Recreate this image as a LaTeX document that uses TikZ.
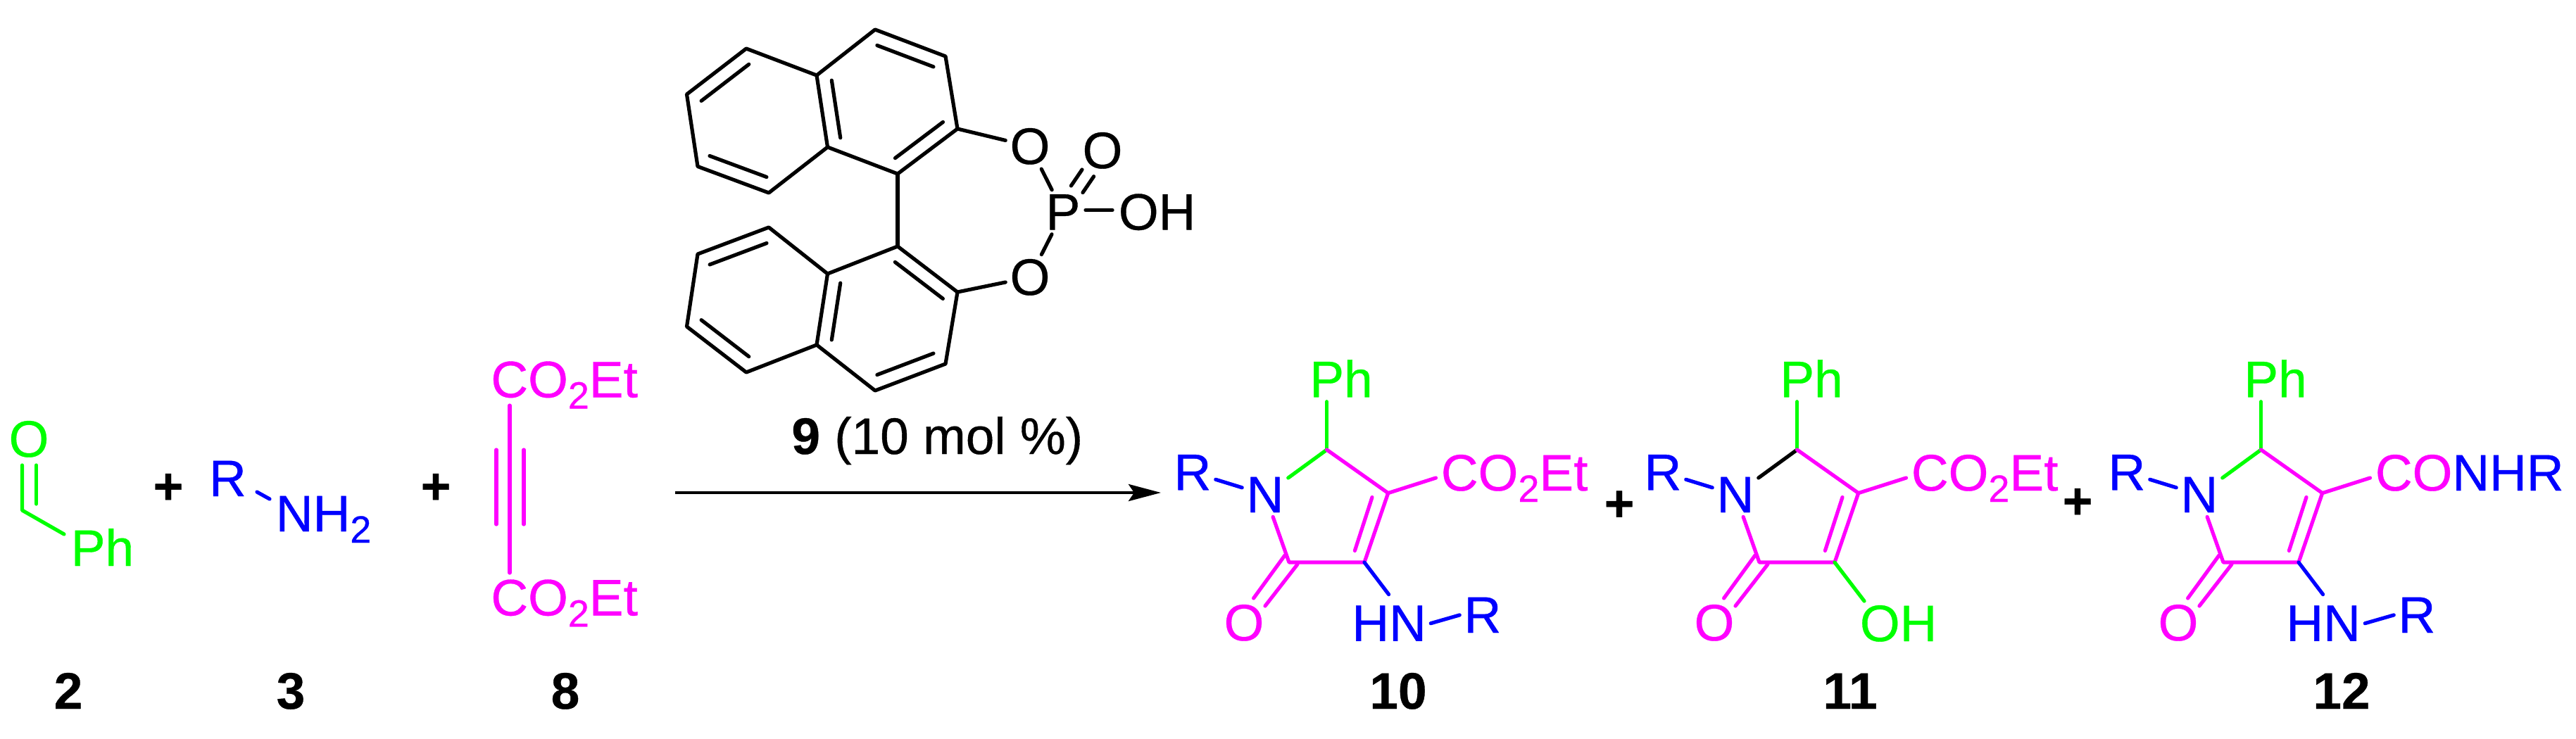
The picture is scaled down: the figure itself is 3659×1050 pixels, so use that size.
\documentclass[tikz,border=0pt]{standalone}
\usepackage{fontspec}
\setmainfont[RawFeature={embolden=0.5}]{Liberation Sans}
\usetikzlibrary{calc}
\usetikzlibrary{arrows.meta}
\definecolor{groupgreen}{RGB}{0,255,0}
\definecolor{groupblue}{RGB}{0,0,255}
\definecolor{groupmagenta}{RGB}{255,0,255}
\newcommand{\subtwo}{\raisebox{-8pt}{\fontsize{27}{27}\selectfont 2}}
\newcommand{\innerbond}[3][black]{\draw[bond,#1] ($(#2)!.1!(#3)!10pt!90:(#3)$) -- ($(#3)!.1!(#2)!10pt!-90:(#2)$);}

\begin{document}
\begin{tikzpicture}
  [x=.5pt, y=-.5pt,
   bond/.style={line width=2.6pt, line cap=round, line join=round},
   atom/.style={inner sep=3pt, anchor=base, font=\fontsize{36.5}{40}\selectfont},
   group/.style={inner sep=3pt, anchor=base west, font=\fontsize{36.5}{40}\selectfont},
   plussign/.style={inner sep=0pt, font=\bfseries\fontsize{36.5}{40}\selectfont},
   number/.style={inner sep=0pt, anchor=base, font=\bfseries\fontsize{36.5}{40}\selectfont},
   reaction/.style={line width=2.3pt, -{Stealth[length=23pt,width=12pt,inset=4pt]}}]
  \useasboundingbox (0,0) rectangle (3659,1050);

  \coordinate (a1) at (1243,42);
  \coordinate (a2) at (1343,80);
  \coordinate (a3) at (1360,183);
  \coordinate (a4) at (1275,247);
  \coordinate (a5) at (1175.5,209);
  \coordinate (a6) at (1160,107);
  \coordinate (a7) at (1060,69);
  \coordinate (a8) at (975.5,134);
  \coordinate (a9) at (991,236.5);
  \coordinate (a10) at (1092,274);
  \coordinate (b1) at (1243,555);
  \coordinate (b2) at (1343,517);
  \coordinate (b3) at (1360,415);
  \coordinate (b4) at (1275,350);
  \coordinate (b5) at (1175.5,389);
  \coordinate (b6) at (1160,490);
  \coordinate (b7) at (1060,529);
  \coordinate (b8) at (975.5,464);
  \coordinate (b9) at (991,361);
  \coordinate (b10) at (1092,323);
  \draw[bond] (a1) -- (a2) -- (a3) -- (a4) -- (a5) -- (a6) -- cycle;
  \draw[bond] (a6) -- (a7) -- (a8) -- (a9) -- (a10) -- (a5);
  \draw[bond] (b1) -- (b2) -- (b3) -- (b4) -- (b5) -- (b6) -- cycle;
  \draw[bond] (b6) -- (b7) -- (b8) -- (b9) -- (b10) -- (b5);
  \draw[bond] (a4) -- (b4);
  \innerbond{a2}{a1}
  \innerbond{a4}{a3}
  \innerbond{a6}{a5}
  \innerbond{a7}{a8}
  \innerbond{a9}{a10}
  \innerbond{b1}{b2}
  \innerbond{b3}{b4}
  \innerbond{b5}{b6}
  \innerbond{b8}{b7}
  \innerbond{b10}{b9}

  \node[atom] (oa) at (1463,233) {O};
  \node[atom] (ob) at (1463,419) {O};
  \node[atom] (p) at (1510,326.4) {P};
  \node[atom] (od) at (1566,239) {O};
  \node[group] (oh) at (1582.5,326.4) {OH};
  \coordinate (pd1) at (1521.4,264);
  \coordinate (pd2) at (1538,273.6);
  \coordinate (od1) at (1537,241);
  \coordinate (od2) at (1553.6,250.7);
  \coordinate (pe) at (1542,298.5);
  \coordinate (ohe) at (1580,298.5);
  \draw[bond] (a3) -- (oa);
  \draw[bond] (b3) -- (ob);
  \draw[bond] (oa) -- (p);
  \draw[bond] (ob) -- (p);
  \draw[bond] (pd1) -- (od1);
  \draw[bond] (pd2) -- (od2);
  \draw[bond] (pe) -- (ohe);
  \node[group] (catalyst) at (1118,645) {\textbf{9} (10 mol \%)};

  \node[atom, groupgreen] (oald) at (41,649) {O};
  \node[group, groupgreen] (phald) at (94.5,804) {Ph};
  \coordinate (cald) at (31.5,725);
  \coordinate (dald1) at (31.5,661);
  \coordinate (dald2) at (51.5,661);
  \coordinate (dald3) at (51.5,716);
  \coordinate (eald) at (91,759);
  \draw[bond, groupgreen] (dald1) -- (cald) -- (eald);
  \draw[bond, groupgreen] (dald2) -- (dald3);

  \node[atom, groupblue] (ramine) at (323.4,705) {R};
  \node[group, groupblue] (nhamine) at (385.5,755) {NH\subtwo};
  \coordinate (ramine1) at (365,699);
  \coordinate (ramine2) at (383,709);
  \draw[bond, groupblue] (ramine1) -- (ramine2);

  \node[group, groupmagenta] (esta) at (691,564.5) {CO\subtwo Et};
  \node[group, groupmagenta] (estb) at (691,874.4) {CO\subtwo Et};
  \coordinate (tripa) at (724,576);
  \coordinate (tripb) at (724,814);
  \coordinate (tripc) at (705,639);
  \coordinate (tripd) at (705,745);
  \coordinate (tripe) at (744,639);
  \coordinate (tripf) at (744,745);
  \draw[bond, groupmagenta] (tripa) -- (tripb);
  \draw[bond, groupmagenta] (tripc) -- (tripd);
  \draw[bond, groupmagenta] (tripe) -- (tripf);

  \node[plussign] (plusa) at (239,694.5) {+};
  \node[plussign] (plusb) at (619,694.5) {+};
  \node[plussign] (plusc) at (2300,719) {+};
  \node[plussign] (plusd) at (2951,715.5) {+};
  \node[number] (two) at (97,1007) {2};
  \node[number] (three) at (413,1007) {3};
  \node[number] (eight) at (803,1007) {8};
  \node[number] (ten) at (1986,1007) {10};
  \node[number] (eleven) at (2628,1007) {11};
  \node[number] (twelve) at (3326,1007) {12};

  \coordinate (start) at (959,700);
  \coordinate (stop) at (1649,700);
  \draw[reaction] (start) -- (stop);

  \foreach \p/\dx/\col in {x/0/groupgreen, y/668/black, z/1327/groupgreen} {
    \begin{scope}[shift={(\dx,0)}]
      \node[atom, groupblue] (r\p) at (1694,696.3) {R};
      \node[atom, groupblue] (n\p) at (1797,728) {N};
      \node[group, groupgreen] (ph\p) at (1854,564.3) {Ph};
      \node[atom, groupmagenta] (o\p) at (1767,910) {O};
      \coordinate (c2\p) at (1884.6,639);
      \coordinate (c3\p) at (1971.7,700.6);
      \coordinate (c4\p) at (1938,799);
      \coordinate (c5\p) at (1831,799);
      \coordinate (e\p) at (2039.5,679);
      \coordinate (ia\p) at (1949,706.5);
      \coordinate (ib\p) at (1924.4,782.4);
      \coordinate (ca\p) at (1825,789);
      \coordinate (cb\p) at (1780.6,850);
      \coordinate (cc\p) at (1843,801.7);
      \coordinate (cd\p) at (1797,861);
      \draw[bond, groupblue] (r\p) -- (n\p);
      \draw[bond, \col] (c2\p) -- (n\p);
      \draw[bond, groupgreen] (c2\p) -- (ph\p.south -| c2\p);
      \draw[bond, groupmagenta] (n\p) -- (c5\p) -- (c4\p) -- (c3\p) -- (c2\p);
      \draw[bond, groupmagenta] (c3\p) -- (e\p);
      \draw[bond, groupmagenta] (ia\p) -- (ib\p);
      \draw[bond, groupmagenta] (ca\p) -- (cb\p);
      \draw[bond, groupmagenta] (cc\p) -- (cd\p);
    \end{scope}
  }

  \node[group, groupmagenta] (estx) at (2040.5,697) {CO\subtwo Et};
  \node[group, groupmagenta] (esty) at (2708.5,697) {CO\subtwo Et};
  \node[group] (amidez) at (3367.5,697) {\textcolor{groupmagenta}{CO}\textcolor{groupblue}{NHR}};
  \node[group, groupblue] (hnx) at (1914,910.8) {HN};
  \node[atom, groupblue] (rhx) at (2106,899) {R};
  \node[group, groupblue] (hnz) at (3241,910.8) {HN};
  \node[atom, groupblue] (rhz) at (3433,899) {R};
  \node[group, groupgreen] (ohy) at (2635.5,911) {OH};
  \coordinate (nhx) at (1972.6,844.6);
  \coordinate (nhz) at (3299.6,844.6);
  \coordinate (ohe2) at (2648,854);
  \draw[bond, groupblue] (c4x) -- (nhx);
  \draw[bond, groupblue] (c4z) -- (nhz);
  \draw[bond, groupgreen] (c4y) -- (ohe2);
  \draw[bond, groupblue] (hnx.east) -- (rhx.west);
  \draw[bond, groupblue] (hnz.east) -- (rhz.west);
\end{tikzpicture}
\end{document}
